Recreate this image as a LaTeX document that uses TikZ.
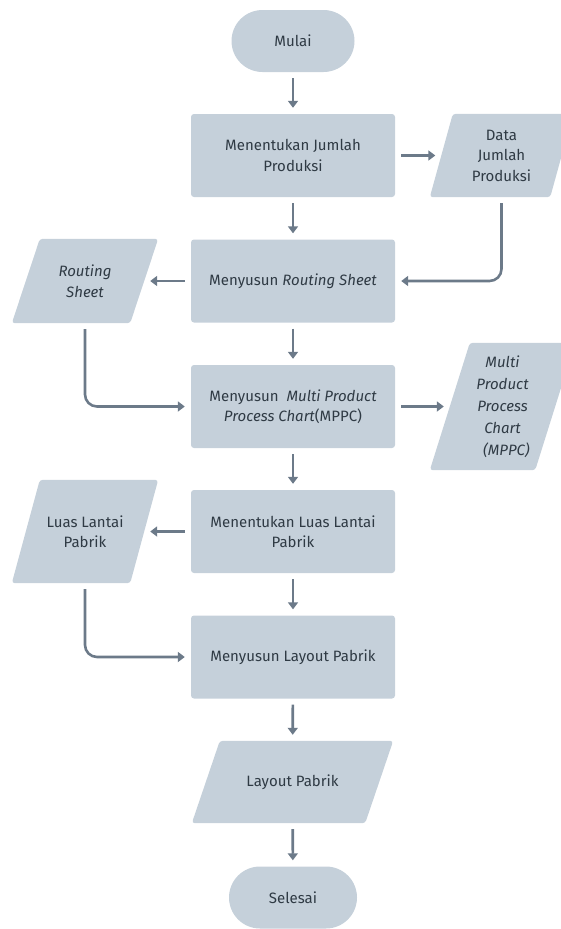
\documentclass[tikz,border=0pt]{standalone}
\usepackage{fontspec}
\setmainfont{Fira Sans}
\usetikzlibrary{arrows.meta,backgrounds}
\definecolor{boxfill}{HTML}{C5D0DA}
\definecolor{arrowc}{HTML}{6C7A89}
\definecolor{txt}{HTML}{2F3A44}
\newcommand\parafill[2]{\fill[boxfill, rounded corners=3pt] ([xshift=#2]#1.north west) -- ([xshift=#2]#1.north east) -- ([xshift=-#2]#1.south east) -- ([xshift=-#2]#1.south west) -- cycle;}
\begin{document}
\begin{tikzpicture}[x=1pt,y=-1pt,
  font=\fontsize{15}{20.5}\selectfont, text=txt,
  proc/.style={rectangle, fill=boxfill, rounded corners=3pt, minimum width=204pt, minimum height=83pt, align=center, inner sep=0pt},
  term/.style={rectangle, fill=boxfill, rounded corners=31pt, minimum width=123pt, minimum height=62pt, inner sep=0pt},
  io/.style={rectangle, minimum height=83pt, align=center, inner sep=0pt},
  arr/.style={draw=arrowc, line width=2.6pt, -{Triangle[width=10pt,length=7pt]}, shorten <=6pt, shorten >=6pt}]
\useasboundingbox (0,0) rectangle (561,929);
\node[term] (start) at (293,41) {Mulai};
\node[proc] (b1) at (293,155.5) {Menentukan Jumlah\\Produksi};
\node[io, minimum width=120pt] (data) at (501.5,155.5) {Data\\Jumlah\\Produksi};
\node[proc] (b2) at (293,281) {Menyusun \textit{Routing Sheet}};
\node[io, minimum width=118pt, minimum height=84pt] (rs) at (85,281) {\textit{Routing}\\\textit{Sheet}};
\node[proc] (b3) at (293,406.5) {Menyusun\ \ \textit{Multi Product}\\\textit{Process Chart}(MPPC)};
\node[io, minimum width=105pt, minimum height=127pt, font=\fontsize{15}{22}\selectfont\itshape] (mppc) at (502.5,406.5) {Multi\\Product\\Process\\Chart\\\ \ (MPPC)};
\node[proc] (b4) at (293,531.5) {Menentukan Luas Lantai\\Pabrik};
\node[io, minimum width=118pt, minimum height=103pt] (luas) at (85,531.5) {Luas Lantai\\Pabrik};
\node[proc] (b5) at (293,657) {Menyusun Layout Pabrik};
\node[io, minimum width=173pt, minimum height=82pt] (lay) at (292.5,782) {Layout Pabrik};
\node[term, minimum width=128pt] (end) at (293,897.5) {Selesai};
\begin{scope}[on background layer]
  \parafill{data}{11.5pt}
  \parafill{rs}{14pt}
  \parafill{mppc}{20pt}
  \parafill{luas}{14pt}
  \parafill{lay}{14pt}
\end{scope}
\draw[arr] (start) -- (b1);
\draw[arr] (b1) -- (data);
\draw[arr] (b1) -- (b2);
\draw[arr, rounded corners=12pt] (data.south) |- (b2.east);
\draw[arr] (b2) -- (rs);
\draw[arr] (b2) -- (b3);
\draw[arr, rounded corners=12pt] (rs.south) |- (b3.west);
\draw[arr] (b3) -- (mppc);
\draw[arr] (b3) -- (b4);
\draw[arr] (b4) -- (luas);
\draw[arr] (b4) -- (b5);
\draw[arr, rounded corners=12pt] (luas.south) |- (b5.west);
\draw[arr] (b5) -- (lay);
\draw[arr] (lay) -- (end);
\end{tikzpicture}
\end{document}
